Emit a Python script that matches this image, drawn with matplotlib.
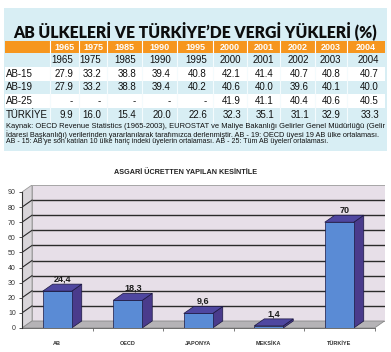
import matplotlib
matplotlib.use('Agg')
import matplotlib.pyplot as plt
from matplotlib import font_manager
from matplotlib.patches import Rectangle, Polygon

# ---------------- data ----------------
table_title = "AB ÜLKELERİ VE TÜRKİYE’DE VERGİ YÜKLERİ (%)"
years = ['1965', '1975', '1985', '1990', '1995', '2000', '2001', '2002', '2003', '2004']
row_labels = ['', 'AB-15', 'AB-19', 'AB-25', 'TÜRKİYE']
ab15 = ['27.9', '33.2', '38.8', '39.4', '40.8', '42.1', '41.4', '40.7', '40.8', '40.7']
ab19 = ['27.9', '33.2', '38.8', '39.4', '40.2', '40.6', '40.0', '39.6', '40.1', '40.0']
ab25 = ['-', '-', '-', '-', '-', '41.9', '41.1', '40.4', '40.6', '40.5']
turkiye = ['9.9', '16.0', '15.4', '20.0', '22.6', '32.3', '35.1', '31.1', '32.9', '33.3']
source_lines = [
    "Kaynak: OECD Revenue Statistics (1965-2003), EUROSTAT ve Maliye Bakanlığı Gelirler Genel Müdürlüğü (Gelir",
    "İdaresi Başkanlığı) verilerinden yararlanılarak tarafımızca derlenmiştir. AB - 19: OECD üyesi 19 AB ülke ortalaması.",
    "AB - 15: AB’ye son katılan 10 ülke hariç indeki üyelerin ortalaması. AB - 25: Tüm AB üyeleri ortalaması.",
]
chart_title = 'ASGARİ ÜCRETTEN YAPILAN KESİNTİLE'
categories = ['AB', 'OECD', 'JAPONYA', 'MEKSİKA', 'TÜRKİYE']
values = [24.4, 18.3, 9.6, 1.4, 70]
value_labels = ['24,4', '18,3', '9,6', '1,4', '70']
yticks = [0, 10, 20, 30, 40, 50, 60, 70, 80, 90]

# ---------------- style ----------------
W, H, DPI = 391, 352, 100


def pick(cands):
    names = {f.name for f in font_manager.fontManager.ttflist}
    for c in cands:
        if c in names:
            return c
    return 'DejaVu Sans'


NARROW = pick(['Liberation Sans Narrow', 'DejaVu Sans Condensed', 'Liberation Sans'])
SANS = pick(['Liberation Sans', 'DejaVu Sans'])
HEAVY = pick(['Lato', 'Inter', 'Roboto', 'DejaVu Sans'])

fig = plt.figure(figsize=(W / DPI, H / DPI), dpi=DPI)
fig.patch.set_facecolor('white')
renderer = fig.canvas.get_renderer()

# ---- top table panel (pixel coordinate axes) ----
tab = fig.add_axes([0, 0, 1, 1])
tab.set_xlim(0, W)
tab.set_ylim(H, 0)
tab.axis('off')

LIGHT = '#d8eef4'
ORANGE = '#f6961e'
tab.add_patch(Rectangle((4, 8), 383, 143, facecolor=LIGHT, edgecolor='none'))


def fit_text(ax, x, y, s, target_w, base, **kw):
    t = ax.text(x, y, s, fontsize=base, **kw)
    w = t.get_window_extent(renderer).width
    t.set_fontsize(base * target_w / w)
    return t


fit_text(tab, 195, 30.5, table_title, 364, 12, family=[HEAVY, 'DejaVu Sans'], weight='heavy',
         color='#0d0d0d', ha='center', va='center')

col_bounds = [50, 79, 107, 142, 177, 213, 247, 280, 315, 347, 385]
header_top, header_bot = 41, 53
row_h = 13.8
tab.add_patch(Rectangle((5, header_top), 380, header_bot - header_top,
                        facecolor=ORANGE, edgecolor='none'))
rows = [years, ab15, ab19, ab25, turkiye]
for i, row in enumerate(rows):
    top = header_bot + i * row_h
    if i % 2 == 1:
        tab.add_patch(Rectangle((5, top), 380, row_h, facecolor='white', edgecolor='none'))
for b in col_bounds[:-1]:
    tab.plot([b, b], [header_top, header_bot], color='white', lw=0.8)
    tab.plot([b, b], [header_bot, header_bot + 5 * row_h], color='#f4fbfd', lw=0.8)

for j, yr in enumerate(years):
    cx = (col_bounds[j] + col_bounds[j + 1]) / 2
    tab.text(cx, (header_top + header_bot) / 2 + 0.5, yr, family=NARROW, weight='bold',
             fontsize=6.5, color='white', ha='center', va='center')

for i, row in enumerate(rows):
    cy = header_bot + (i + 0.5) * row_h
    tab.text(6, cy, row_labels[i], family=NARROW, fontsize=7, color='#111111',
             ha='left', va='center')
    for j, val in enumerate(row):
        tab.text(col_bounds[j + 1] - 6, cy, val, family=NARROW, fontsize=7,
                 color='#111111', ha='right', va='center')

src_widths = [372, 372, 318]
for k, line in enumerate(source_lines):
    fit_text(tab, 6, 127 + k * 7.3, line, src_widths[k], 4.5, family=NARROW,
             color='#111111', ha='left', va='center')

fit_text(tab, 186, 173, chart_title, 142, 5.5, family=NARROW, weight='bold',
         color='#222222', ha='center', va='center')

# ---- 3D-look bar chart ----
n = len(categories)
x0, x1 = -0.5, n - 0.5
px_x = 70.5            # pixels per category
px_y = 136 / 90.0      # pixels per value unit
DX = 10 / px_x         # depth offset (x, data units)
DY = 7 / px_y          # depth offset (y, data units)
ymax = yticks[-1]

left_px, base_px = 22, 328
width_px = (x1 + DX - x0) * px_x
height_px = (ymax + DY) * px_y
ax = fig.add_axes([left_px / W, (H - base_px) / H, width_px / W, height_px / H])
ax.set_xlim(x0, x1 + DX)
ax.set_ylim(0, ymax + DY)
ax.patch.set_alpha(0)

# walls and floor
ax.add_patch(Polygon([(x0 + DX, DY), (x1 + DX, DY), (x1 + DX, ymax + DY), (x0 + DX, ymax + DY)],
                     closed=True, facecolor='#e7dfe8', edgecolor='#9a9a9a', lw=0.6, zorder=1))
ax.add_patch(Polygon([(x0, 0), (x0 + DX, DY), (x0 + DX, ymax + DY), (x0, ymax)],
                     closed=True, facecolor='#d9d6da', edgecolor='#9a9a9a', lw=0.6, zorder=1))
ax.add_patch(Polygon([(x0, 0), (x1, 0), (x1 + DX, DY), (x0 + DX, DY)],
                     closed=True, facecolor='#b5b3b6', edgecolor='#8a8a8a', lw=0.6, zorder=1))
for v in yticks[1:-1]:
    ax.plot([x0 + DX, x1 + DX], [v + DY, v + DY], color='#2b2b2b', lw=1.0, zorder=2,
            solid_capstyle='butt')
    ax.plot([x0, x0 + DX], [v, v + DY], color='#2b2b2b', lw=0.8, zorder=2)

# bars
xs = list(range(n))
bw = 29 / px_x
FRONT, SIDE, TOP = '#5a8bd5', '#4a3b8c', '#4f47a0'
ax.bar(xs, values, width=bw, color=FRONT, edgecolor='#1b1740', linewidth=0.5, zorder=4)
for x, v in zip(xs, values):
    l, r = x - bw / 2, x + bw / 2
    ax.add_patch(Polygon([(r, 0), (r + DX, DY), (r + DX, v + DY), (r, v)], closed=True,
                         facecolor=SIDE, edgecolor='#1b1740', lw=0.5, zorder=3))
    ax.add_patch(Polygon([(l, v), (r, v), (r + DX, v + DY), (l + DX, v + DY)], closed=True,
                         facecolor=TOP, edgecolor='#1b1740', lw=0.5, zorder=5))

for x, v, lab in zip(xs, values, value_labels):
    ax.annotate(lab, (x + DX / 2, v + DY), xytext=(0, 0.5), textcoords='offset points',
                ha='center', va='bottom', family=SANS, weight='bold', fontsize=6.5,
                color='#1a1a1a', zorder=6)

# axes styling
for s in ['top', 'right']:
    ax.spines[s].set_visible(False)
ax.spines['left'].set_bounds(0, ymax)
ax.spines['bottom'].set_bounds(x0, x1)
ax.spines['left'].set_color('#333333')
ax.spines['bottom'].set_color('#555555')
ax.spines['left'].set_linewidth(0.8)
ax.spines['bottom'].set_linewidth(0.6)
ax.spines['left'].set_zorder(7)
ax.set_yticks(yticks)
ax.set_yticklabels([str(t) for t in yticks], family=SANS, fontsize=5, color='#333333')
ax.tick_params(axis='y', length=2.5, width=0.6, color='#333333', pad=2)
ax.set_xticks(xs)
ax.set_xticklabels(categories, family=SANS, weight='bold', fontsize=4, color='#333333')
ax.tick_params(axis='x', length=0, pad=9.5)
ax.set_xticks([x + 0.5 for x in xs], minor=True)
ax.tick_params(axis='x', which='minor', length=2.5, width=0.6, color='#666666')

fig.savefig('out.png', dpi=DPI)
